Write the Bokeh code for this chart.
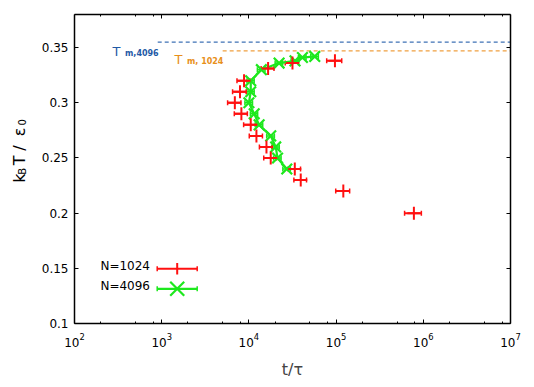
import math
from bokeh.plotting import figure
from bokeh.layouts import row
from bokeh.models import (ColumnDataSource, Whisker, TeeHead, Label, Arrow,
                          LogAxis, LinearAxis, FixedTicker, Range1d,
                          PrintfTickFormatter, CustomJSTickFormatter)
from bokeh.core.properties import value
from bokeh.embed import file_html
from bokeh.resources import INLINE

# ---------------- data ----------------
# N=1024
t_1024 = [780000, 121000, 39300, 33600, 17800, 15900, 12200, 10500, 8200,
          6900, 7900, 8800, 16600, 31600, 97000]
T_1024 = [0.200, 0.220, 0.230, 0.240, 0.250, 0.260, 0.270, 0.280, 0.290,
          0.300, 0.310, 0.320, 0.331, 0.336, 0.338]
terr_1024 = [170000, 22000, 6500, 5500, 3000, 2700, 2100, 1800, 1400,
             1200, 1400, 1500, 2800, 5500, 19000]

# N=4096
t_4096 = [27200, 21300, 20300, 17800, 13100, 11500, 10000, 10500, 10500,
          13900, 22200, 33800, 41100, 56900]
T_4096 = [0.240, 0.250, 0.260, 0.270, 0.280, 0.290, 0.300, 0.310, 0.320,
          0.330, 0.336, 0.338, 0.341, 0.342]
terr_4096 = [2700, 2100, 2000, 1800, 1300, 1100, 1000, 1000, 1000,
             1400, 2200, 3400, 4100, 5700]

# melting temperatures
Tm_N = ["4096", "1024"]
Tm_val = [0.355, 0.347]
Tm_tstart = [900, 5000]

x_major = [1e2, 1e3, 1e4, 1e5, 1e6, 1e7]
x_minor_mult = [2, 5, 8]
y_major = [0.1, 0.15, 0.2, 0.25, 0.3, 0.35]

RED = "#ff1010"
GREEN = "#1de81d"
BLUE_L = "#3f72b5"
BLUE_T = "#1f5aa6"
ORANGE_L = "#f0a040"
ORANGE_T = "#e8901a"
FONT = "DejaVu Sans"

LW = 30            # width of the strip holding the y-axis title
H = 381
W = 526 - LW

p = figure(width=W, height=H, x_axis_type="log",
           x_range=Range1d(1e2, 1e7), y_range=Range1d(0.1, 0.38),
           output_backend="svg", toolbar_location=None,
           min_border_left=74 - LW, min_border_right=16, min_border_top=14,
           min_border_bottom=H - 324)
p.outline_line_color = None
p.grid.visible = False
p.background_fill_color = "white"
p.border_fill_color = "white"

x_minor = [m * d for d in x_major[:-1] for m in x_minor_mult]


def style_axis(ax):
    ax.axis_line_color = "black"
    ax.axis_line_width = 1.5
    ax.major_tick_in = 4
    ax.major_tick_out = 0
    ax.minor_tick_in = 2
    ax.minor_tick_out = 0
    ax.major_tick_line_color = "black"
    ax.minor_tick_line_color = "black"
    ax.major_label_text_font = FONT
    ax.major_label_text_font_size = "12px"
    ax.major_label_text_color = "black"


xa = p.xaxis[0]
xa.ticker = FixedTicker(ticks=x_major, minor_ticks=x_minor)
style_axis(xa)
xa.major_label_standoff = 9
xa.axis_label = "t/τ"
xa.axis_label_text_font = FONT
xa.axis_label_text_font_size = "16px"
xa.axis_label_text_font_style = "normal"
xa.axis_label_standoff = 10

ya = p.yaxis[0]
ya.ticker = FixedTicker(ticks=y_major, minor_ticks=[])
ya.formatter = PrintfTickFormatter(format="%g")
style_axis(ya)
ya.major_label_standoff = 6

top = LogAxis(ticker=FixedTicker(ticks=x_major, minor_ticks=x_minor),
              formatter=CustomJSTickFormatter(code="return ''"))
style_axis(top)
p.add_layout(top, "above")
right = LinearAxis(ticker=FixedTicker(ticks=y_major, minor_ticks=[]),
                   formatter=CustomJSTickFormatter(code="return ''"))
style_axis(right)
p.add_layout(right, "right")

# dashed melting lines
for N, Tm, ts, c in zip(Tm_N, Tm_val, Tm_tstart, [BLUE_L, ORANGE_L]):
    p.segment(x0=[ts], y0=[Tm], x1=[1e7], y1=[Tm], line_color=c,
              line_width=1.3, line_dash="4 3")

# N=4096 series
src_g = ColumnDataSource(dict(t=t_4096, T=T_4096,
                              lo=[a - b for a, b in zip(t_4096, terr_4096)],
                              hi=[a + b for a, b in zip(t_4096, terr_4096)]))
p.line("t", "T", source=src_g, line_color=GREEN, line_width=2.2)
p.add_layout(Whisker(source=src_g, base="T", lower="lo", upper="hi",
                     dimension="width", line_color=GREEN, line_width=1.5,
                     lower_head=TeeHead(size=5, line_color=GREEN, line_width=1.5),
                     upper_head=TeeHead(size=5, line_color=GREEN, line_width=1.5)))
p.scatter("t", "T", source=src_g, marker="x", size=15, line_color=GREEN,
          line_width=2.2)

# N=1024 series
src_r = ColumnDataSource(dict(t=t_1024, T=T_1024,
                              lo=[a - b for a, b in zip(t_1024, terr_1024)],
                              hi=[a + b for a, b in zip(t_1024, terr_1024)]))
p.add_layout(Whisker(source=src_r, base="T", lower="lo", upper="hi",
                     dimension="width", line_color=RED, line_width=2,
                     lower_head=TeeHead(size=5, line_color=RED, line_width=1.5),
                     upper_head=TeeHead(size=5, line_color=RED, line_width=1.5)))
p.scatter("t", "T", source=src_r, marker="cross", size=13, line_color=RED,
          line_width=2)

# ---------- texts / legend (canvas units of main figure) ----------
OX = LW   # main canvas starts at page x = LW


def lab(text, x, y, size, color="black", style="normal",
        align="left", baseline="alphabetic"):
    p.add_layout(Label(x=x - OX, y=y, x_units="canvas", y_units="canvas",
                       text=text, text_font=FONT,
                       text_font_size=size, text_color=color,
                       text_font_style=style, text_align=align,
                       text_baseline=baseline))


# T_m labels (page coordinates)
lab("T", 112, 50.5, "13px", color=BLUE_T)
lab("m,4096", 124.5, 52.5, "8px", color=BLUE_T, style="bold")
lab("T", 174, 59, "13px", color=ORANGE_T)
lab("m, 1024", 186.5, 61, "8px", color=ORANGE_T, style="bold")

# legend
lab("N=1024", 149.5, 265.7, "12px", align="right", baseline="middle")
lab("N=4096", 149.5, 285.7, "12px", align="right", baseline="middle")


def seg(x0, y0, x1, y1, color, w, heads=False):
    kw = {}
    if heads:
        kw["start"] = TeeHead(size=5, line_color=color, line_width=1.5)
        kw["end"] = TeeHead(size=5, line_color=color, line_width=1.5)
    else:
        kw["start"] = None
        kw["end"] = None
    p.add_layout(Arrow(x_start=x0 - OX, y_start=y0, x_end=x1 - OX, y_end=y1,
                       start_units="canvas", end_units="canvas",
                       line_color=color, line_width=w, **kw))


seg(156.7, 268.3, 196.7, 268.3, RED, 2, heads=True)
seg(176.7, 262.5, 176.7, 274.0, RED, 2)
seg(156.7, 288.3, 196.7, 288.3, GREEN, 2.2, heads=True)
seg(169.7, 281.3, 183.7, 295.3, GREEN, 2.2)
seg(169.7, 295.3, 183.7, 281.3, GREEN, 2.2)

# ---------- strip with the y-axis title k_B T / eps_0 ----------
q = figure(width=LW, height=H, x_range=Range1d(0, LW), y_range=Range1d(0, H),
           output_backend="svg", toolbar_location=None,
           x_axis_location=None, y_axis_location=None, min_border=0)
q.outline_line_color = None
q.grid.visible = False
A = math.pi / 2


def vtext(s, x, y_page, size):
    q.text(x=[x], y=[H - y_page], text=[s], angle=A,
           text_font=value(FONT), text_font_size=value(size),
           text_color="black", text_baseline="alphabetic", text_align="left")


vtext("k", 18.5, 207.5, "16px")
vtext("B", 21.5, 197.5, "10px")
vtext("T", 18.5, 186, "16px")
vtext("/", 18.5, 168, "16px")
vtext("ε", 18.5, 150, "16px")
vtext("0", 21.5, 137, "10px")

open("out.html", "w").write(file_html(row(q, p), INLINE))
